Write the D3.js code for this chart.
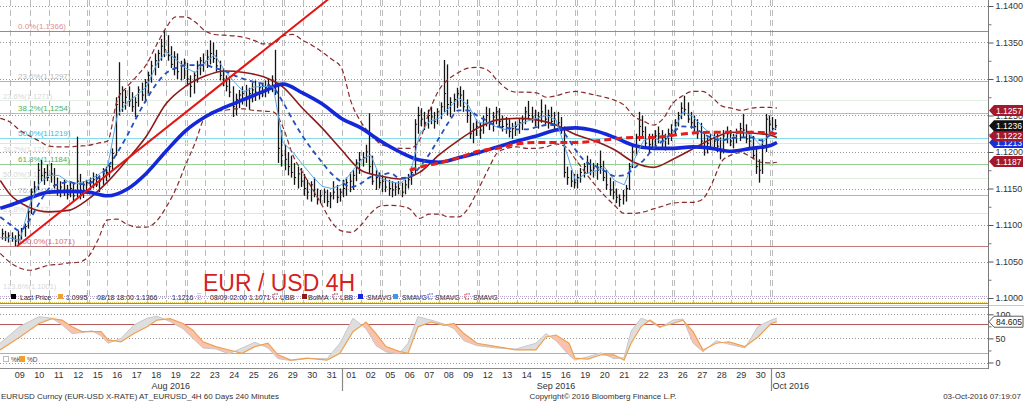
<!DOCTYPE html>
<html><head><meta charset="utf-8">
<script src="https://cdn.jsdelivr.net/npm/d3@7"></script>
<style>
html,body{margin:0;padding:0;background:#fff;}
svg{display:block;}
</style></head><body>
<svg id="chart" width="1024" height="401"></svg>
<script>
// ---------------- DATA ----------------
// trading days (index 0 = Aug 08 2016)
const tradingDays = ["08","09","10","11","12","15","16","17","18","19","22","23","24","25","26","29","30","31",
  "01","02","05","06","07","08","09","12","13","14","15","16","19","20","21","22","23","26","27","28","29","30","03"];
const weekStartDays = [5,10,15,20,25,30,35,40];
const monthLabels = ["Aug 2016","Sep 2016","Oct 2016"];
const monthStartDays = [0,18,40];
const firstBarSlot = 3; // first visible 4H bar = 4th bar of Aug 08

const barHigh = [
1.1095,1.1092,1.1090,
1.1090,1.1086,1.1092,1.1096,1.1102,1.1125,
1.1150,1.1160,1.1185,1.1189,1.1178,1.1183,
1.1185,1.1178,1.1165,1.1160,1.1162,1.1155,
1.1160,1.1158,1.1221,1.1170,1.1160,1.1162,
1.1165,1.1172,1.1170,1.1168,1.1178,1.1180,
1.1185,1.1205,1.1275,1.1323,1.1290,1.1285,
1.1290,1.1282,1.1275,1.1290,1.1295,1.1300,
1.1310,1.1325,1.1335,1.1340,1.1355,1.1366,
1.1360,1.1345,1.1338,1.1335,1.1325,1.1328,
1.1322,1.1305,1.1310,1.1325,1.1330,1.1335,
1.1340,1.1353,1.1350,1.1340,1.1325,1.1315,
1.1305,1.1300,1.1290,1.1280,1.1285,1.1290,
1.1292,1.1288,1.1295,1.1298,1.1293,1.1295,
1.1298,1.1300,1.1305,1.1340,1.1295,1.1230,
1.1210,1.1200,1.1195,1.1185,1.1180,1.1178,
1.1170,1.1162,1.1160,1.1165,1.1150,1.1148,
1.1150,1.1148,1.1145,1.1160,1.1155,1.1150,
1.1162,1.1165,1.1172,1.1175,1.1190,1.1200,
1.1200,1.1210,1.1253,1.1195,1.1175,1.1172,
1.1168,1.1165,1.1162,1.1160,1.1158,1.1160,
1.1158,1.1162,1.1170,1.1180,1.1245,1.1262,
1.1260,1.1255,1.1258,1.1262,1.1255,1.1260,
1.1268,1.1326,1.1320,1.1275,1.1280,1.1288,
1.1290,1.1285,1.1272,1.1255,1.1240,1.1245,
1.1240,1.1250,1.1262,1.1260,1.1255,1.1262,
1.1260,1.1250,1.1248,1.1245,1.1240,1.1242,
1.1245,1.1250,1.1262,1.1270,1.1262,1.1258,
1.1255,1.1272,1.1265,1.1258,1.1262,1.1255,
1.1255,1.1248,1.1235,1.1180,1.1175,1.1170,
1.1170,1.1178,1.1185,1.1195,1.1190,1.1185,
1.1185,1.1202,1.1188,1.1175,1.1165,1.1160,
1.1150,1.1142,1.1148,1.1155,1.1185,1.1210,
1.1225,1.1255,1.1250,1.1235,1.1225,1.1225,
1.1230,1.1235,1.1230,1.1225,1.1232,1.1238,
1.1245,1.1255,1.1268,1.1277,1.1268,1.1255,
1.1250,1.1245,1.1240,1.1225,1.1220,1.1225,
1.1228,1.1225,1.1220,1.1230,1.1235,1.1230,
1.1225,1.1232,1.1240,1.1252,1.1238,1.1228,
1.1222,1.1205,1.1190,1.1215,1.1252,1.1250,
1.1248,1.1245];
const barLow = [
1.1080,1.1078,1.1076,
1.1077,1.1071,1.1074,1.1080,1.1084,1.1095,
1.1115,1.1138,1.1148,1.1160,1.1155,1.1160,
1.1158,1.1150,1.1140,1.1138,1.1140,1.1135,
1.1138,1.1132,1.1138,1.1135,1.1137,1.1145,
1.1148,1.1150,1.1152,1.1145,1.1155,1.1160,
1.1165,1.1175,1.1195,1.1250,1.1255,1.1258,
1.1262,1.1255,1.1248,1.1262,1.1270,1.1268,
1.1280,1.1295,1.1305,1.1315,1.1325,1.1330,
1.1325,1.1315,1.1305,1.1300,1.1298,1.1300,
1.1290,1.1275,1.1280,1.1295,1.1305,1.1310,
1.1315,1.1320,1.1322,1.1310,1.1298,1.1290,
1.1283,1.1275,1.1248,1.1250,1.1260,1.1265,
1.1262,1.1258,1.1268,1.1270,1.1272,1.1275,
1.1275,1.1280,1.1282,1.1278,1.1185,1.1180,
1.1175,1.1168,1.1165,1.1155,1.1150,1.1152,
1.1140,1.1135,1.1132,1.1138,1.1128,1.1130,
1.1130,1.1125,1.1123,1.1135,1.1130,1.1132,
1.1138,1.1140,1.1145,1.1148,1.1160,1.1170,
1.1180,1.1185,1.1170,1.1155,1.1148,1.1150,
1.1145,1.1145,1.1140,1.1138,1.1140,1.1142,
1.1138,1.1142,1.1150,1.1155,1.1170,1.1225,
1.1235,1.1230,1.1232,1.1238,1.1232,1.1238,
1.1245,1.1255,1.1250,1.1248,1.1255,1.1260,
1.1262,1.1255,1.1240,1.1218,1.1212,1.1222,
1.1218,1.1225,1.1235,1.1230,1.1228,1.1238,
1.1235,1.1228,1.1225,1.1220,1.1218,1.1222,
1.1225,1.1230,1.1238,1.1245,1.1240,1.1235,
1.1232,1.1240,1.1238,1.1232,1.1238,1.1230,
1.1232,1.1225,1.1165,1.1155,1.1152,1.1150,
1.1150,1.1158,1.1165,1.1170,1.1168,1.1165,
1.1162,1.1170,1.1160,1.1148,1.1140,1.1135,
1.1130,1.1125,1.1128,1.1132,1.1148,1.1178,
1.1195,1.1215,1.1220,1.1205,1.1200,1.1205,
1.1208,1.1212,1.1205,1.1202,1.1210,1.1215,
1.1222,1.1235,1.1245,1.1250,1.1240,1.1232,
1.1228,1.1218,1.1205,1.1195,1.1198,1.1205,
1.1205,1.1200,1.1190,1.1198,1.1212,1.1208,
1.1205,1.1212,1.1215,1.1220,1.1212,1.1205,
1.1190,1.1170,1.1158,1.1170,1.1200,1.1225,
1.1228,1.1230];
const barClose = [
1.1088,1.1083,1.1085,
1.1082,1.1078,1.1086,1.1091,1.1098,1.1118,
1.1145,1.1152,1.1175,1.1168,1.1172,1.1165,
1.1170,1.1155,1.1148,1.1152,1.1145,1.1142,
1.1150,1.1140,1.1160,1.1145,1.1155,1.1158,
1.1158,1.1162,1.1155,1.1160,1.1170,1.1172,
1.1180,1.1198,1.1265,1.1280,1.1268,1.1275,
1.1270,1.1262,1.1268,1.1285,1.1278,1.1295,
1.1305,1.1318,1.1325,1.1335,1.1345,1.1340,
1.1332,1.1320,1.1330,1.1310,1.1318,1.1322,
1.1300,1.1290,1.1305,1.1318,1.1325,1.1322,
1.1330,1.1335,1.1328,1.1318,1.1305,1.1300,
1.1290,1.1282,1.1262,1.1272,1.1278,1.1280,
1.1275,1.1280,1.1285,1.1282,1.1288,1.1290,
1.1288,1.1292,1.1290,1.1295,1.1205,1.1195,
1.1190,1.1180,1.1172,1.1165,1.1170,1.1160,
1.1150,1.1145,1.1155,1.1142,1.1135,1.1140,
1.1145,1.1132,1.1140,1.1145,1.1138,1.1145,
1.1150,1.1158,1.1160,1.1168,1.1185,1.1190,
1.1192,1.1200,1.1180,1.1160,1.1165,1.1158,
1.1160,1.1152,1.1150,1.1148,1.1152,1.1150,
1.1145,1.1155,1.1162,1.1172,1.1238,1.1250,
1.1245,1.1240,1.1250,1.1248,1.1242,1.1255,
1.1262,1.1280,1.1265,1.1268,1.1272,1.1280,
1.1278,1.1262,1.1250,1.1225,1.1230,1.1235,
1.1230,1.1245,1.1250,1.1238,1.1248,1.1255,
1.1242,1.1235,1.1238,1.1228,1.1232,1.1235,
1.1240,1.1245,1.1255,1.1250,1.1248,1.1245,
1.1248,1.1255,1.1245,1.1250,1.1242,1.1245,
1.1240,1.1230,1.1172,1.1165,1.1160,1.1158,
1.1165,1.1172,1.1180,1.1185,1.1175,1.1178,
1.1175,1.1180,1.1165,1.1155,1.1148,1.1145,
1.1138,1.1135,1.1140,1.1150,1.1180,1.1200,
1.1220,1.1235,1.1228,1.1212,1.1210,1.1218,
1.1222,1.1225,1.1215,1.1218,1.1225,1.1230,
1.1240,1.1250,1.1260,1.1258,1.1245,1.1240,
1.1235,1.1225,1.1215,1.1205,1.1212,1.1218,
1.1215,1.1208,1.1200,1.1222,1.1225,1.1215,
1.1220,1.1228,1.1232,1.1230,1.1218,1.1215,
1.1195,1.1180,1.1175,1.1205,1.1245,1.1238,
1.1232,1.1236];

// studies sampled once a day (first sample mid Aug 08, last at final bar)
const smaThick = [1.1123,1.1127,1.1137,1.1145,1.1146,1.1145,1.1140,1.1149,1.1171,1.1201,1.1229,1.1248,1.1261,1.1272,1.1283,1.1293,1.1281,1.1266,1.1246,1.1233,1.1215,1.1200,1.1189,1.1186,1.1192,1.1199,1.1207,1.1215,1.1222,1.1230,1.1233,1.1229,1.1220,1.1209,1.1205,1.1205,1.1207,1.1205,1.1201,1.1205,1.1209,1.1213];
const bolMA = [1.1161,1.1142,1.1124,1.1118,1.1120,1.1135,1.1159,1.1189,1.1222,1.1266,1.1290,1.1304,1.1311,1.1309,1.1303,1.1289,1.1260,1.1233,1.1203,1.1175,1.1167,1.1163,1.1172,1.1196,1.1216,1.1233,1.1244,1.1246,1.1244,1.1237,1.1224,1.1215,1.1203,1.1186,1.1179,1.1190,1.1204,1.1218,1.1227,1.1226,1.1223,1.1220];
// red dashed SMAVG (starts Sep 06)
const smaRedDash = [1.1175,1.1179,1.1185,1.1192,1.1201,1.1205,1.1211,1.1213,1.1213,1.1213,1.1215,1.1218,1.1220,1.1220,1.1223,1.1226,1.1227,1.1227,1.1227,1.1226,1.1224];
// studies sampled twice a day
const smaBlueDash = [1.1111,1.1101,1.1092,1.1107,1.1130,1.1150,1.1156,1.1159,1.1156,1.1157,1.1164,1.1179,1.1199,1.1222,1.1248,1.1272,1.1293,1.1308,1.1315,1.1319,1.1319,1.1319,1.1315,1.1311,1.1305,1.1300,1.1296,1.1293,1.1288,1.1268,1.1244,1.1222,1.1203,1.1186,1.1170,1.1159,1.1152,1.1157,1.1166,1.1168,1.1171,1.1164,1.1166,1.1179,1.1197,1.1219,1.1241,1.1257,1.1257,1.1249,1.1242,1.1235,1.1233,1.1231,1.1231,1.1234,1.1237,1.1237,1.1223,1.1203,1.1187,1.1181,1.1174,1.1167,1.1168,1.1178,1.1189,1.1205,1.1216,1.1227,1.1235,1.1234,1.1226,1.1219,1.1216,1.1219,1.1220,1.1220,1.1216,1.1223,1.1226];
const smaLight = [1.1083,1.1082,1.1079,1.1127,1.1157,1.1168,1.1168,1.1159,1.1157,1.1161,1.1168,1.1179,1.1250,1.1268,1.1278,1.1289,1.1319,1.1338,1.1327,1.1315,1.1309,1.1323,1.1333,1.1312,1.1296,1.1282,1.1289,1.1290,1.1289,1.1213,1.1200,1.1183,1.1167,1.1153,1.1150,1.1155,1.1172,1.1189,1.1196,1.1164,1.1159,1.1157,1.1167,1.1224,1.1242,1.1246,1.1260,1.1274,1.1264,1.1240,1.1240,1.1234,1.1230,1.1237,1.1242,1.1246,1.1250,1.1244,1.1203,1.1161,1.1170,1.1174,1.1179,1.1161,1.1155,1.1189,1.1216,1.1220,1.1213,1.1226,1.1255,1.1249,1.1235,1.1223,1.1216,1.1219,1.1229,1.1223,1.1209,1.1227,1.1234];
const upperBB = [1.1246,1.1241,1.1230,1.1222,1.1215,1.1208,1.1207,1.1207,1.1208,1.1209,1.1212,1.1215,1.1271,1.1289,1.1304,1.1320,1.1346,1.1370,1.1385,1.1385,1.1378,1.1366,1.1361,1.1360,1.1359,1.1357,1.1353,1.1348,1.1348,1.1359,1.1361,1.1353,1.1346,1.1337,1.1327,1.1315,1.1268,1.1241,1.1224,1.1211,1.1207,1.1205,1.1205,1.1216,1.1255,1.1285,1.1300,1.1309,1.1315,1.1316,1.1312,1.1298,1.1286,1.1282,1.1282,1.1281,1.1275,1.1277,1.1281,1.1283,1.1281,1.1278,1.1275,1.1271,1.1264,1.1249,1.1242,1.1237,1.1246,1.1267,1.1277,1.1283,1.1283,1.1275,1.1263,1.1260,1.1257,1.1260,1.1261,1.1261,1.1260];
const lowerBB = [1.1061,1.1049,1.1041,1.1038,1.1041,1.1045,1.1046,1.1048,1.1049,1.1056,1.1079,1.1107,1.1108,1.1101,1.1097,1.1097,1.1105,1.1124,1.1149,1.1182,1.1213,1.1248,1.1256,1.1257,1.1259,1.1259,1.1257,1.1256,1.1255,1.1234,1.1196,1.1172,1.1150,1.1127,1.1104,1.1092,1.1090,1.1100,1.1116,1.1126,1.1127,1.1126,1.1122,1.1109,1.1115,1.1115,1.1111,1.1111,1.1123,1.1148,1.1175,1.1199,1.1205,1.1207,1.1205,1.1205,1.1207,1.1211,1.1207,1.1190,1.1172,1.1155,1.1140,1.1127,1.1116,1.1116,1.1118,1.1122,1.1126,1.1130,1.1131,1.1131,1.1135,1.1157,1.1187,1.1196,1.1199,1.1193,1.1186,1.1185,1.1186];

// trend line: from the Aug 09 low upward
const trendDays = [1.36, 17.5];
const trendPrices = [1.1071, 1.1413];

// Fibonacci retracement 1.1366 -> 1.1071
const fibLabels = ["0.0%(1.1366)","23.6%(1.1297)","38.2%(1.1254)","50.0%(1.1219)","61.8%(1.1184)","76.4%(1.1141)","100.0%(1.1071)"];
const fibPrices = [1.1366,1.1297,1.1254,1.1219,1.1184,1.1141,1.1071];
const fibFaintLabels = ["23.6%(1.1271)","38.2%(1.1212)","50.0%(1.1165)","61.8%(1.1117)"];
const fibFaintPrices = [1.1271,1.1212,1.1165,1.1117];
const extLabel = "123.6%(1.1001)";
const extPrice = 1.1001;
const markerPrice = 1.0995;

const priceTicks = [1.1000,1.1050,1.1100,1.1150,1.1200,1.1250,1.1300,1.1350,1.1400];
const priceMinorTicks = [1.1025,1.1075,1.1125,1.1175,1.1225,1.1275,1.1325,1.1375];
const tagValues = [1.1213,1.1187,1.1222,1.1236,1.1257];

const legendLabels = ["Last Price","1.0995","08/18 18:00 1.1366","1.1216","08/09 02:00 1.1071","UBB","BolMA","LBB","SMAVG","SMAVG","SMAVG","SMAVG"];

// Stochastics (lower panel)
const stochDays = [0.49,1.51,2.49,3.15,3.67,4.18,4.69,5.21,5.67,6.03,6.69,7.36,8.03,8.54,9.21,9.87,10.38,10.9,11.56,12.23,12.9,13.56,14.23,14.74,15.41,16.23,17.26,17.92,18.59,19.26,19.77,20.28,20.95,21.41,21.92,22.59,23.26,23.77,24.28,24.95,25.97,26.95,27.97,28.49,29.0,29.67,29.97,30.64,31.31,31.97,32.49,32.85,33.36,33.82,34.33,35.0,35.51,36.03,36.54,37.21,37.87,38.69,39.36,40.03,40.33];
const stochD = [26,53,81,91,88,74,64,64,64,47,43,60,74,88,91,81,67,43,33,26,19,33,40,16,5,9,5,19,64,84,60,33,23,19,74,84,77,81,60,40,33,26,26,53,57,40,9,7,16,16,5,40,74,88,74,81,88,64,26,40,43,33,53,81,84.605];
const stochK = [40,75,95,92,78,60,62,66,55,40,50,78,92,96,85,70,50,30,28,18,30,42,30,8,4,8,8,40,92,70,35,22,18,40,95,88,80,70,45,35,30,28,40,60,45,15,5,12,20,8,10,65,92,85,72,88,90,40,22,45,38,30,75,88,92];
const stochTicks = [0,50,100];
const stochLevels = [20,80];
const stochLast = 84.605;

const footerLeft = "EURUSD Curncy (EUR-USD X-RATE) AT_EURUSD_4H 60 Days 240 Minutes";
const footerMid = "Copyright\u00A9 2016 Bloomberg Finance L.P.";
const footerRight = "03-Oct-2016 07:19:07";
const chartTitle = "EUR / USD 4H";

// ---------------- CHECKS ----------------
const nBars = barHigh.length;
if (barLow.length!==nBars || barClose.length!==nBars) throw new Error("bar lengths "+nBars+" "+barLow.length+" "+barClose.length);
[["smaBlueDash",smaBlueDash],["smaLight",smaLight],["upperBB",upperBB],["lowerBB",lowerBB]].forEach(([n,a])=>{if(a.length!==81) throw new Error(n+" "+a.length);});
[["smaThick",smaThick],["bolMA",bolMA]].forEach(([n,a])=>{if(a.length!==42) throw new Error(n+" "+a.length);});
if (smaRedDash.length!==21) throw new Error("red "+smaRedDash.length);
if (stochD.length!==stochDays.length || stochK.length!==stochDays.length) throw new Error("stoch "+stochDays.length+" "+stochD.length+" "+stochK.length);

// ---------------- LAYOUT ----------------
const RIGHT = 988, MAIN_BOTTOM = 303, LOW_TOP = 308, LOW_BOTTOM = 368;
const FONT = "'Liberation Sans', Arial, sans-serif";
const svg = d3.select("#chart");
const x = d3.scaleLinear().domain([0,40]).range([-9.5,770.5]);
const y = d3.scaleLinear().domain([1.10,1.14]).range([298,6]);
const ys = d3.scaleLinear().domain([0,100]).range([362.5,314.3]);

const dayTimes = d3.range(42).map(i => i===0 ? 0.5 : (i<41 ? i : 40.33));
const halfTimes = d3.range(81).map(i => i<80 ? 0.5+i*0.5 : 40.33);
const redTimes = d3.range(21).map(i => i===0 ? 21.5 : (i<20 ? 21+i : 40.33));
const zip = (ts, vs) => vs.map((v,i)=>({t:ts[i], v}));

const defs = svg.append("defs");
defs.append("clipPath").attr("id","clipMain").append("rect").attr("x",0).attr("y",0).attr("width",RIGHT).attr("height",MAIN_BOTTOM);
defs.append("clipPath").attr("id","clipLow").append("rect").attr("x",0).attr("y",LOW_TOP).attr("width",RIGHT).attr("height",LOW_BOTTOM-LOW_TOP);

const main = svg.append("g").attr("clip-path","url(#clipMain)");

// horizontal dotted gridlines
main.selectAll("line.hg").data(priceTicks).join("line")
  .attr("x1",0).attr("x2",RIGHT).attr("y1",d=>Math.round(y(d))+0.5).attr("y2",d=>Math.round(y(d))+0.5)
  .attr("stroke","#9a9a9a").attr("stroke-width",1).attr("stroke-dasharray","1,2");

// vertical day gridlines (double at start of week)
const vDays = d3.range(1,41);
vDays.forEach(d=>{
  const px = Math.round(x(d))+0.5;
  const offs = weekStartDays.includes(d) ? [-1,1] : [0];
  offs.forEach(o=>{
    main.append("line").attr("x1",px+o).attr("x2",px+o).attr("y1",0).attr("y2",MAIN_BOTTOM)
      .attr("stroke","#bdbdbd").attr("stroke-width",1).attr("stroke-dasharray","6,4");
  });
});

// faint secondary fib lines + labels (38.2% label sits under its line)
fibFaintPrices.forEach((p,i)=>{
  const py = Math.round(y(p))+0.5;
  main.append("line").attr("x1",0).attr("x2",RIGHT).attr("y1",py).attr("y2",py).attr("stroke",i%2? "#e4e4e4":"#e2efe2").attr("stroke-width",1);
  main.append("text").attr("x",3).attr("y",i===1 ? py+8 : py-2).attr("font-family",FONT).attr("font-size",7.5).attr("fill","#d8d8d8").text(fibFaintLabels[i]);
});
main.append("line").attr("x1",0).attr("x2",RIGHT).attr("y1",Math.round(y(extPrice))-0.5).attr("y2",Math.round(y(extPrice))-0.5)
  .attr("stroke","#b8a8d8").attr("stroke-dasharray","1,1");
main.append("line").attr("x1",0).attr("x2",RIGHT).attr("y1",Math.round(y(markerPrice))+0.5).attr("y2",Math.round(y(markerPrice))+0.5)
  .attr("stroke","#e0c860").attr("stroke-dasharray","1,1");
main.append("text").attr("x",3).attr("y",289).attr("font-family",FONT).attr("font-size",7.5).attr("fill","#d8d8d8").text(extLabel);

// main fib lines
const fibLineColors = ["#c07878","#b4b4b4","#98d098","#88dcea","#98d098","#b4b4b4","#c07878"];
const fibTextColors = ["#e09090","#b8b8b8","#52b052","#3cb8d4","#52b052","#c0c0c0","#d07070"];
fibPrices.forEach((p,i)=>{
  const py = Math.round(y(p))+0.5;
  main.append("line").attr("x1",0).attr("x2",RIGHT).attr("y1",py).attr("y2",py).attr("stroke",fibLineColors[i]).attr("stroke-width",1.2);
  main.append("text").attr("x",18).attr("y",py-2.5).attr("font-family",FONT).attr("font-size",8).attr("fill",fibTextColors[i]).text(fibLabels[i]);
});

// price bars
const bars = barHigh.map((h,i)=>{const s=firstBarSlot+i; return {t:Math.floor(s/6)+((s%6)+0.5)/6, h, l:barLow[i], c:barClose[i]};});
const barG = main.append("g");
bars.forEach(b=>{
  const px = Math.round(x(b.t))+0.5;
  barG.append("line").attr("x1",px).attr("x2",px).attr("y1",y(b.h)).attr("y2",y(b.l)).attr("stroke","#151515").attr("stroke-width",1.3);
  barG.append("line").attr("x1",px).attr("x2",px+1.6).attr("y1",y(b.c)).attr("y2",y(b.c)).attr("stroke","#151515").attr("stroke-width",1);
});

const line = d3.line().x(d=>x(d.t)).y(d=>y(d.v)).curve(d3.curveMonotoneX);
const lineLin = d3.line().x(d=>x(d.t)).y(d=>y(d.v));

// Bollinger bands
main.append("path").attr("d",line(zip(halfTimes,upperBB))).attr("fill","none").attr("stroke","#8a2a2a").attr("stroke-width",1.2).attr("stroke-dasharray","5,3");
main.append("path").attr("d",line(zip(halfTimes,lowerBB))).attr("fill","none").attr("stroke","#8a2a2a").attr("stroke-width",1.2).attr("stroke-dasharray","5,3");
// BolMA
main.append("path").attr("d",line(zip(dayTimes,bolMA))).attr("fill","none").attr("stroke","#8e1b1b").attr("stroke-width",1.6);
// thick blue SMAVG
main.append("path").attr("d",line(zip(dayTimes,smaThick))).attr("fill","none").attr("stroke","#1428d8").attr("stroke-width",3.6);
// light blue thin SMAVG
main.append("path").attr("d",lineLin(zip(halfTimes,smaLight))).attr("fill","none").attr("stroke","#58a4e6").attr("stroke-width",1);
// blue dashed SMAVG
main.append("path").attr("d",line(zip(halfTimes,smaBlueDash))).attr("fill","none").attr("stroke","#2350c0").attr("stroke-width",1.8).attr("stroke-dasharray","5,4");
// red dashed SMAVG
main.append("path").attr("d",line(zip(redTimes,smaRedDash))).attr("fill","none").attr("stroke","#e41e1e").attr("stroke-width",3).attr("stroke-dasharray","7,4");
// trend line
main.append("line").attr("x1",x(trendDays[0])).attr("y1",y(trendPrices[0])).attr("x2",x(trendDays[1])).attr("y2",y(trendPrices[1]))
  .attr("stroke","#e31515").attr("stroke-width",2);

// title
svg.append("text").attr("x",203).attr("y",291).attr("font-family",FONT).attr("font-size",23).attr("fill","#d61f1f").text(chartTitle);

// legend row
const lg = svg.append("g").attr("font-family",FONT).attr("font-size",7).attr("fill","#333");
const legendTextX = [20,66,97,172,210,280,308,340,367,402,435,473];
const ly = 300;
const sq = (xx,c)=>lg.append("rect").attr("x",xx).attr("y",ly-6).attr("width",5).attr("height",5).attr("fill",c);
const dashIcon = (xx,c)=>lg.append("path").attr("d",`M${xx+5},${ly-6}H${xx}V${ly-1}H${xx+5}`).attr("fill","none").attr("stroke",c).attr("stroke-dasharray","1.5,1");
sq(11,"#000"); sq(58,"#f0a030");
lg.append("line").attr("x1",87).attr("x2",87).attr("y1",ly-7).attr("y2",ly).attr("stroke","#999").attr("stroke-dasharray","1,1");
lg.append("line").attr("x1",160).attr("x2",168).attr("y1",ly-3).attr("y2",ly-3).attr("stroke","#999").attr("stroke-dasharray","1,1");
lg.append("line").attr("x1",198).attr("x2",198).attr("y1",ly-7).attr("y2",ly).attr("stroke","#999").attr("stroke-dasharray","1,1");
lg.append("line").attr("x1",200).attr("x2",200).attr("y1",ly-7).attr("y2",ly).attr("stroke","#999").attr("stroke-dasharray","1,1");
dashIcon(273,"#8a2a2a"); sq(302,"#8e1b1b"); dashIcon(333,"#8a2a2a");
sq(358,"#1428d8"); sq(393,"#3f9ae6"); dashIcon(428,"#2350c0"); dashIcon(465,"#e41e1e");
legendLabels.forEach((t,i)=>lg.append("text").attr("x",legendTextX[i]).attr("y",ly).text(t));

// panel frames
svg.append("line").attr("x1",0).attr("x2",RIGHT).attr("y1",MAIN_BOTTOM+0.5).attr("y2",MAIN_BOTTOM+0.5).attr("stroke","#8c8c8c");
svg.append("line").attr("x1",0).attr("x2",1024).attr("y1",305.5).attr("y2",305.5).attr("stroke","#c8c8c8");
svg.append("line").attr("x1",0).attr("x2",RIGHT).attr("y1",LOW_TOP-0.5).attr("y2",LOW_TOP-0.5).attr("stroke","#8c8c8c");
svg.append("line").attr("x1",0).attr("x2",RIGHT).attr("y1",LOW_BOTTOM+0.5).attr("y2",LOW_BOTTOM+0.5).attr("stroke","#8c8c8c");
svg.append("line").attr("x1",RIGHT+0.5).attr("x2",RIGHT+0.5).attr("y1",0).attr("y2",LOW_BOTTOM+1).attr("stroke","#7a7a7a");

// right price axis
const yAxis = svg.append("g").attr("transform",`translate(${RIGHT+0.5},0)`)
  .call(d3.axisRight(y).tickValues(priceTicks).tickFormat(d3.format(".4f")).tickSize(5).tickPadding(2));
yAxis.select(".domain").remove();
yAxis.selectAll("text").attr("font-family",FONT).attr("font-size",9).attr("fill","#333");
yAxis.selectAll("line").attr("stroke","#555");
const yMinor = svg.append("g").attr("transform",`translate(${RIGHT+0.5},0)`)
  .call(d3.axisRight(y).tickValues(priceMinorTicks).tickFormat("").tickSize(3));
yMinor.select(".domain").remove(); yMinor.selectAll("line").attr("stroke","#777");

// value tags
const tagColors = ["#1b2fd6","#a3182c","#a3182c","#111111","#a3182c"];
tagValues.forEach((v,i)=>{
  const cy = y(v);
  svg.append("path").attr("d",`M${RIGHT+1},${cy}L${RIGHT+6},${cy-5.5}H1023V${cy+5.5}H${RIGHT+6}Z`).attr("fill",tagColors[i]);
  svg.append("text").attr("x",RIGHT+8).attr("y",cy+3.2).attr("font-family",FONT).attr("font-size",8.5).attr("fill","#fff").text(d3.format(".4f")(v));
});

// ---------------- LOWER PANEL ----------------
const low = svg.append("g").attr("clip-path","url(#clipLow)");
low.selectAll("line.sg").data(stochTicks).join("line")
  .attr("x1",0).attr("x2",RIGHT).attr("y1",d=>Math.round(ys(d))+0.5).attr("y2",d=>Math.round(ys(d))+0.5)
  .attr("stroke","#9a9a9a").attr("stroke-dasharray","1,2");
const lvlColors = ["#86cc86","#b45a5a"];
stochLevels.forEach((v,i)=>low.append("line").attr("x1",0).attr("x2",RIGHT).attr("y1",Math.round(ys(v))+0.5).attr("y2",Math.round(ys(v))+0.5).attr("stroke",lvlColors[i]).attr("stroke-width",1.2));

const stoch = stochDays.map((t,i)=>({t, k:stochK[i], d:stochD[i]}));
const sx = d=>x(d.t);
defs.append("clipPath").attr("id","aboveD").append("path")
  .attr("d",d3.area().x(sx).y0(LOW_TOP-5).y1(d=>ys(d.d))(stoch));
defs.append("clipPath").attr("id","belowD").append("path")
  .attr("d",d3.area().x(sx).y0(d=>ys(d.d)).y1(LOW_BOTTOM+5)(stoch));
const kdArea = d3.area().x(sx).y0(d=>ys(d.d)).y1(d=>ys(d.k));
low.append("g").attr("clip-path","url(#aboveD)").append("path").attr("d",kdArea(stoch)).attr("fill","#dedede");
low.append("g").attr("clip-path","url(#belowD)").append("path").attr("d",kdArea(stoch)).attr("fill","#f8c2ac");
low.append("path").attr("d",d3.line().x(sx).y(d=>ys(d.k))(stoch)).attr("fill","none").attr("stroke","#c8c8c8").attr("stroke-width",1);
low.append("path").attr("d",d3.line().x(sx).y(d=>ys(d.d))(stoch)).attr("fill","none").attr("stroke","#f0a050").attr("stroke-width",1.2);

// stoch legend
svg.append("rect").attr("x",3.5).attr("y",356.5).attr("width",5).attr("height",5).attr("fill","#fff").attr("stroke","#bbb");
svg.append("text").attr("x",11).attr("y",362).attr("font-family",FONT).attr("font-size",6.5).attr("fill","#444").text("%K");
svg.append("rect").attr("x",19).attr("y",356).attr("width",6).attr("height",6).attr("fill","#f0a030");
svg.append("text").attr("x",27).attr("y",362).attr("font-family",FONT).attr("font-size",6.5).attr("fill","#444").text("%D");

const sAxis = svg.append("g").attr("transform",`translate(${RIGHT+0.5},0)`)
  .call(d3.axisRight(ys).tickValues(stochTicks).tickFormat(d3.format("d")).tickSize(5).tickPadding(2));
sAxis.select(".domain").remove();
sAxis.selectAll("text").attr("font-family",FONT).attr("font-size",9).attr("fill","#333");
sAxis.selectAll("line").attr("stroke","#555");
const sMinor = svg.append("g").attr("transform",`translate(${RIGHT+0.5},0)`)
  .call(d3.axisRight(ys).tickValues([25,75]).tickFormat("").tickSize(3));
sMinor.select(".domain").remove(); sMinor.selectAll("line").attr("stroke","#777");
{
  const cy = ys(stochLast);
  svg.append("path").attr("d",`M${RIGHT+1},${cy}L${RIGHT+6},${cy-5.5}H1023V${cy+5.5}H${RIGHT+6}Z`).attr("fill","#fff").attr("stroke","#333").attr("stroke-width",0.8);
  svg.append("text").attr("x",RIGHT+8).attr("y",cy+3.2).attr("font-family",FONT).attr("font-size",8.5).attr("fill","#222").text(stochLast);
}

// ---------------- X AXIS ----------------
const xa = svg.append("g").attr("font-family",FONT).attr("fill","#333");
tradingDays.forEach((lab,i)=>{
  if (i===0) return;
  xa.append("text").attr("x",x(i+0.5)).attr("y",378).attr("text-anchor","middle").attr("font-size",9).text(lab);
});
monthStartDays.forEach((d,i)=>{
  if (i>0) xa.append("line").attr("x1",Math.round(x(d))+0.5).attr("x2",Math.round(x(d))+0.5).attr("y1",369).attr("y2",391).attr("stroke","#888").attr("stroke-width",1.2);
  const end = i<monthStartDays.length-1 ? monthStartDays[i+1] : null;
  if (end!==null) {
    const x0 = Math.max(0, x(d)), x1 = x(end);
    xa.append("text").attr("x",(x0+x1)/2).attr("y",389).attr("text-anchor","middle").attr("font-size",9).text(monthLabels[i]);
  } else {
    xa.append("text").attr("x",x(d)+2).attr("y",389).attr("font-size",9).text(monthLabels[i]);
  }
});

// footer
const ft = svg.append("g").attr("font-family",FONT).attr("font-size",8).attr("fill","#333");
ft.append("text").attr("x",1).attr("y",398.5).text(footerLeft);
ft.append("text").attr("x",603).attr("y",398.5).attr("text-anchor","middle").text(footerMid);
ft.append("text").attr("x",1021).attr("y",398.5).attr("text-anchor","end").text(footerRight);
</script></body></html>
